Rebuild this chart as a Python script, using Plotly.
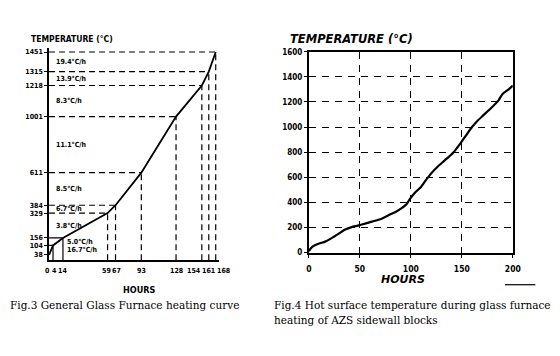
import plotly.graph_objects as go

# ---------------- Fig.3 data (general heating curve) ----------------
heat_hours = [0, 4, 14, 59, 67, 93, 128, 154, 161, 168]
heat_temps = [38, 104, 156, 329, 384, 611, 1001, 1218, 1315, 1451]
heat_rates = ["16.7°C/h", "5.0°C/h", "3.8°C/h", "6.7°C/h", "8.5°C/h",
              "11.1°C/h", "8.3°C/h", "13.9°C/h", "19.4°C/h"]

# ---------------- Fig.4 data (hot surface temperature) ----------------
surf_hours = [0, 2, 5, 10, 16, 22, 29, 35, 42, 48, 56, 64, 72, 78, 85, 91, 96,
              99, 104, 110, 115, 120, 126, 134, 142, 149, 154, 160, 165, 171,
              179, 186, 190, 196, 200]
surf_temps = [10, 35, 54, 72, 87, 113, 149, 182, 203, 215, 233, 251, 272, 297,
              323, 354, 387, 426, 477, 523, 579, 631, 682, 740, 800, 874, 932,
              1000, 1047, 1093, 1154, 1213, 1264, 1300, 1330]
surf_xticks = [0, 50, 100, 150, 200]
surf_yticks = [0, 200, 400, 600, 800, 1000, 1200, 1400, 1600]

HAND = "DejaVu Sans Condensed, DejaVu Sans"
SERIF = "DejaVu Serif, Liberation Serif, serif"
INK = "black"

fig = go.Figure()

# ---- Fig.3 guide lines ----
sol_x, sol_y, dsh_x, dsh_y = [], [], [], []
for h, t in zip(heat_hours[1:], heat_temps[1:]):
    if t < 300:
        sol_x += [0, h, None]; sol_y += [t, t, None]
    else:
        dsh_x += [0, h, None]; dsh_y += [t, t, None]
    if h <= 14:
        sol_x += [h, h, None]; sol_y += [0, t, None]
    else:
        dsh_x += [h, h, None]; dsh_y += [0, t, None]

fig.add_trace(go.Scatter(x=sol_x, y=sol_y, mode="lines", xaxis="x", yaxis="y",
                         line=dict(color=INK, width=1.2), hoverinfo="skip", showlegend=False))
fig.add_trace(go.Scatter(x=dsh_x, y=dsh_y, mode="lines", xaxis="x", yaxis="y",
                         line=dict(color=INK, width=1.2, dash="6px,4px"),
                         hoverinfo="skip", showlegend=False))
fig.add_trace(go.Scatter(x=heat_hours, y=heat_temps, mode="lines", xaxis="x", yaxis="y",
                         line=dict(color=INK, width=1.8), showlegend=False))

# ---- Fig.4 curve ----
fig.add_trace(go.Scatter(x=surf_hours, y=surf_temps, mode="lines", xaxis="x2", yaxis="y2",
                         line=dict(color=INK, width=2.2, shape="spline", smoothing=0.6),
                         showlegend=False))

# ---- axes ----
L_X0, L_X1 = 0.0839, 0.3929
L_Y0, L_Y1 = 0.2612, 0.8736
L_XR, L_YR = [0, 171], [0, 1480]

fig.update_layout(
    width=560, height=356,
    margin=dict(l=0, r=0, t=0, b=0),
    paper_bgcolor="white", plot_bgcolor="white",
    xaxis=dict(domain=[L_X0, L_X1], range=L_XR, showgrid=False, zeroline=False,
               showline=True, linecolor=INK, linewidth=1.6,
               showticklabels=False, ticks="", anchor="y"),
    yaxis=dict(domain=[L_Y0, L_Y1], range=L_YR, showgrid=False, zeroline=False,
               showline=True, linecolor=INK, linewidth=1.6,
               tickvals=heat_temps, ticktext=[str(t) for t in heat_temps],
               ticks="outside", ticklen=3, tickcolor=INK, tickwidth=1,
               tickfont=dict(family=HAND, size=7, color=INK, weight="bold"),
               anchor="x"),
    xaxis2=dict(domain=[0.5571, 0.9286], range=[0, 200], anchor="y2",
                tickvals=surf_xticks, ticks="outside", ticklen=3, tickcolor=INK,
                ticklabelstandoff=4,
                tickfont=dict(family=HAND, size=8.5, color=INK, weight="bold"),
                showgrid=True, gridcolor=INK, gridwidth=1.3, griddash="7px,6px",
                zeroline=False, showline=True, mirror=True, linecolor=INK, linewidth=2),
    yaxis2=dict(domain=[0.2837, 0.8624], range=[0, 1600], anchor="x2",
                tickvals=surf_yticks, ticks="outside", ticklen=3, tickcolor=INK,
                tickfont=dict(family=HAND, size=8, color=INK, weight="bold"),
                showgrid=True, gridcolor=INK, gridwidth=1.3, griddash="7px,6px",
                zeroline=False, showline=True, mirror=True, linecolor=INK, linewidth=2),
)

# ---- Fig.3 x tick labels (spread apart where they would collide) ----
px_per_h = (L_X1 - L_X0) * 560 / (L_XR[1] - L_XR[0])
widths = [len(str(h)) * 4.1 for h in heat_hours]
pos = [h * px_per_h for h in heat_hours]
for _ in range(80):
    for i in range(len(pos) - 1):
        need = (widths[i] + widths[i + 1]) / 2 + 2.5
        d = pos[i + 1] - pos[i]
        if d < need:
            push = (need - d) / 2
            pos[i] -= push
            pos[i + 1] += push
annotations = []
for h, p in zip(heat_hours, pos):
    annotations.append(dict(x=h, y=0, xref="x", yref="y", text=str(h), showarrow=False,
                            xanchor="center", yanchor="top", yshift=-5,
                            xshift=p - h * px_per_h,
                            font=dict(family=HAND, size=7, color=INK, weight="bold")))

# ---- Fig.3 rate labels, one per segment ----
for i, rate in enumerate(heat_rates):
    t_mid = (heat_temps[i] + heat_temps[i + 1]) / 2
    x_at = 16 if heat_hours[i + 1] <= 14 else 5
    annotations.append(dict(x=x_at, y=t_mid, xref="x", yref="y", text=rate, showarrow=False,
                            xanchor="left", yanchor="middle",
                            font=dict(family=HAND, size=7, color=INK, weight="bold")))

# ---- titles and captions ----
annotations += [
    dict(x=27 / 560, y=1 - 36 / 356, xref="paper", yref="paper", text="TEMPERATURE (°C)",
         showarrow=False, xanchor="left", yanchor="middle",
         font=dict(family=HAND, size=8.5, color=INK, weight="bold")),
    dict(x=139 / 560, y=1 - 293 / 356, xref="paper", yref="paper", text="HOURS",
         showarrow=False, xanchor="center", yanchor="middle",
         font=dict(family=HAND, size=9, color=INK, weight="bold")),
    dict(x=291 / 560, y=1 - 36 / 356, xref="paper", yref="paper", text="<i>TEMPERATURE (°C)</i>",
         showarrow=False, xanchor="left", yanchor="middle",
         font=dict(family="DejaVu Sans", size=11.5, color=INK, weight="bold")),
    dict(x=408 / 560, y=1 - 283 / 356, xref="paper", yref="paper", text="<i>HOURS</i>",
         showarrow=False, xanchor="center", yanchor="middle",
         font=dict(family="DejaVu Sans", size=11, color=INK, weight="bold")),
    dict(x=5 / 560, y=1 - 309 / 356, xref="paper", yref="paper",
         text="Fig.3 General Glass Furnace heating curve",
         showarrow=False, xanchor="left", yanchor="middle",
         font=dict(family=SERIF, size=10.5, color=INK)),
    dict(x=274 / 560, y=1 - 309 / 356, xref="paper", yref="paper",
         text="Fig.4 Hot surface temperature during glass furnace",
         showarrow=False, xanchor="left", yanchor="middle",
         font=dict(family=SERIF, size=10.5, color=INK)),
    dict(x=274 / 560, y=1 - 324 / 356, xref="paper", yref="paper",
         text="heating of AZS sidewall blocks",
         showarrow=False, xanchor="left", yanchor="middle",
         font=dict(family=SERIF, size=10.5, color=INK)),
]
fig.update_layout(annotations=annotations)

fig.add_shape(type="line", xref="paper", yref="paper",
              x0=512 / 560, x1=543 / 560, y0=1 - 288 / 356, y1=1 - 288 / 356,
              line=dict(color=INK, width=1.2))

fig.write_html("out.html", config={"displayModeBar": False},
               post_script="document.body.style.margin='0px';document.body.style.padding='0px';")
